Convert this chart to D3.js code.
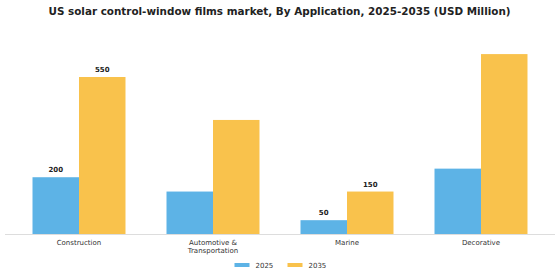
<!DOCTYPE html>
<html>
<head>
<meta charset="utf-8">
<script src="https://cdn.jsdelivr.net/npm/d3@7"></script>
<style>
  body { margin: 0; background: #fff; }
  text { font-family: "DejaVu Sans", sans-serif; }
</style>
</head>
<body>
<div id="chart"></div>
<script>
var categories = ["Construction", "Automotive & Transportation", "Marine", "Decorative"];
var catLines = [["Construction"], ["Automotive &", "Transportation"], ["Marine"], ["Decorative"]];
var series = ["2025", "2035"];
var values2025 = [200, 150, 50, 230];
var values2035 = [550, 400, 150, 630];
var showLabel = [true, false, true, false];
var colors = ["#5db3e6", "#f9c24c"];

var width = 560, height = 280,
    baseline = 234.5;

var svg = d3.select("#chart").append("svg")
    .attr("width", width)
    .attr("height", height);

svg.append("text")
    .attr("x", 279.5)
    .attr("y", 14.5)
    .attr("text-anchor", "middle")
    .style("font-size", "10.4px")
    .style("font-weight", "bold")
    .attr("fill", "#222")
    .text("US solar control-window films market, By Application, 2025-2035 (USD Million)");

var x0 = d3.scaleBand()
    .domain(categories)
    .range([12, 548])
    .paddingInner(0.306)
    .paddingOuter(0.153);

var x1 = d3.scaleBand()
    .domain(series)
    .range([0, x0.bandwidth()]);

var y = d3.scaleLinear()
    .domain([0, 550])
    .range([baseline, baseline - 157.5]);

var data = categories.map(function(c, i) {
  return { cat: c, vals: [values2025[i], values2035[i]], label: showLabel[i] };
});

var g = svg.append("g");

var groups = g.selectAll(".grp")
    .data(data)
  .enter().append("g")
    .attr("transform", function(d) { return "translate(" + x0(d.cat) + ",0)"; });

groups.selectAll("rect")
    .data(function(d) { return d.vals.map(function(v, j) { return { s: series[j], v: v, j: j, label: d.label }; }); })
  .enter().append("rect")
    .attr("x", function(d) { return x1(d.s); })
    .attr("y", function(d) { return y(d.v); })
    .attr("width", x1.bandwidth())
    .attr("height", function(d) { return baseline - y(d.v); })
    .attr("fill", function(d) { return colors[d.j]; });

groups.selectAll(".lbl")
    .data(function(d) { return d.label ? d.vals.map(function(v, j) { return { s: series[j], v: v }; }) : []; })
  .enter().append("text")
    .attr("x", function(d) { return x1(d.s) + x1.bandwidth() / 2; })
    .attr("y", function(d) { return y(d.v) - 5; })
    .attr("text-anchor", "middle")
    .style("font-size", "7px")
    .style("font-weight", "bold")
    .attr("fill", "#222")
    .text(function(d) { return d.v; });

// baseline
g.append("line")
    .attr("x1", 5).attr("x2", 555)
    .attr("y1", baseline).attr("y2", baseline)
    .attr("stroke", "#ddd")
    .attr("stroke-width", 1);

// category labels
var xl = g.selectAll(".xl")
    .data(categories)
  .enter().append("text")
    .attr("x", function(d) { return x0(d) + x0.bandwidth() / 2; })
    .attr("y", 245)
    .attr("text-anchor", "middle")
    .style("font-size", "7px")
    .attr("fill", "#333");

xl.each(function(d, i) {
  var t = d3.select(this);
  catLines[i].forEach(function(line, k) {
    t.append("tspan")
      .attr("x", x0(d) + x0.bandwidth() / 2)
      .attr("dy", k === 0 ? 0 : 8)
      .text(line);
  });
});

// legend
var legX = [234.5, 287.5];
var leg = svg.selectAll(".leg")
    .data(series)
  .enter().append("g")
    .attr("transform", function(d, i) { return "translate(" + legX[i] + ",265)"; });

leg.append("rect")
    .attr("x", 0).attr("y", -2)
    .attr("width", 15).attr("height", 4)
    .attr("fill", function(d, i) { return colors[i]; });

leg.append("text")
    .attr("x", 21)
    .attr("y", 2.5)
    .style("font-size", "7px")
    .attr("fill", "#333")
    .text(function(d) { return d; });
</script>
</body>
</html>
